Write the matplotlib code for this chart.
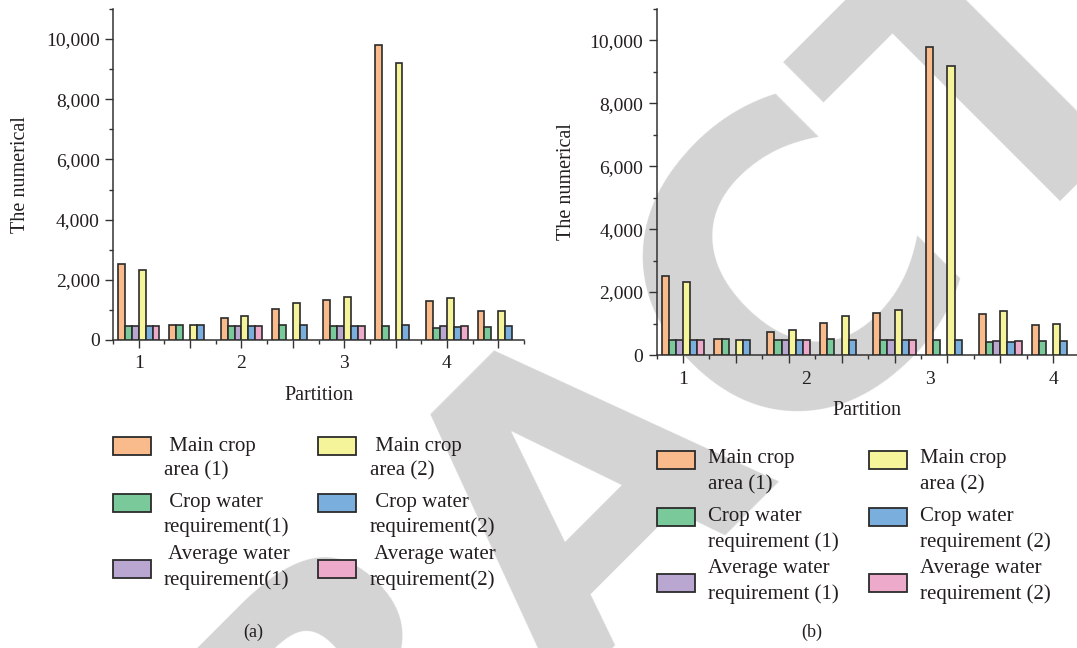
import matplotlib
matplotlib.use("Agg")
import matplotlib.pyplot as plt
import numpy as np
from matplotlib.patches import Rectangle
from matplotlib.ticker import FuncFormatter, MultipleLocator, FixedLocator

# ---------------- data ----------------
partition_labels = ["1", "2", "3", "4"]
series_a = [" Main crop\narea (1)", " Main crop\narea (2)",
            " Crop water\nrequirement(1)", " Crop water\nrequirement(2)",
            " Average water\nrequirement(1)", " Average water\nrequirement(2)"]
series_b = ["Main crop\narea (1)", "Main crop\narea (2)",
            "Crop water\nrequirement (1)", "Crop water\nrequirement (2)",
            "Average water\nrequirement (1)", "Average water\nrequirement (2)"]

main_area_1 = [2510, 510, 740, 1020, 1330, 9800, 1305, 965]
crop_water_1 = [480, 510, 470, 510, 480, 480, 410, 445]
avg_water_1 = [480, np.nan, 470, np.nan, 480, np.nan, 460, np.nan]
main_area_2 = [2310, 490, 785, 1235, 1430, 9195, 1410, 975]
crop_water_2 = [480, 490, 480, 490, 480, 490, 420, 450]
avg_water_2 = [480, np.nan, 480, np.nan, 480, np.nan, 455, np.nan]

# order of bars inside a group (left to right)
bar_series = [main_area_1, crop_water_1, avg_water_1,
              main_area_2, crop_water_2, avg_water_2]
bar_colors = ["#FABB8C", "#79C99A", "#B9A7D1", "#F6F49A", "#79AEDD", "#EDAACB"]
# legend order (row-wise, 2 columns): area1, area2, cw1, cw2, avg1, avg2
legend_colors = ["#FABB8C", "#F6F49A", "#79C99A", "#79AEDD", "#B9A7D1", "#EDAACB"]

W, H = 1077, 648
TXT = "#231F20"
EDGE = "#2B2B2B"
plt.rcParams["font.family"] = ["Liberation Serif", "DejaVu Serif"]

fig = plt.figure(figsize=(W / 100, H / 100), dpi=100)

def fx(px):
    return px / W

def fy(py):
    return 1 - py / H

# watermark
fig.text(fx(585), fy(482), "RETRACTED", rotation=45, rotation_mode="anchor",
         ha="center", va="center", fontsize=290, color="#D4D4D4",
         fontweight="bold", family="DejaVu Sans", zorder=-5)

n_groups = len(main_area_1)
bw = 0.135

def draw_panel(rect, xlim, label_pos, ylab_x, xlab_y):
    ax = fig.add_axes(rect)
    ax.patch.set_alpha(0)
    g = np.arange(n_groups)
    for k, (vals, col) in enumerate(zip(bar_series, bar_colors)):
        v = np.asarray(vals, dtype=float)
        m = ~np.isnan(v)
        ax.bar(g[m] + (k - 2.5) * bw, v[m], width=bw, color=col,
               edgecolor=EDGE, linewidth=1.2, zorder=3)
    ax.set_xlim(*xlim)
    ax.set_ylim(0, 11000)
    for s in ["top", "right"]:
        ax.spines[s].set_visible(False)
    for s in ["left", "bottom"]:
        ax.spines[s].set_color("#333333")
        ax.spines[s].set_linewidth(1.1)
    ax.yaxis.set_major_locator(MultipleLocator(2000))
    ax.yaxis.set_minor_locator(MultipleLocator(1000))
    ax.yaxis.set_major_formatter(FuncFormatter(lambda v, p: f"{int(v):,}"))
    ax.xaxis.set_major_locator(FixedLocator(g))
    ax.xaxis.set_minor_locator(FixedLocator(np.arange(-0.5, n_groups, 1.0)))
    ax.set_xticklabels([])
    ax.tick_params(axis="both", which="major", direction="out", length=6,
                   width=1.0, color="#333333", labelsize=14, labelcolor=TXT)
    ax.tick_params(axis="both", which="minor", direction="out", length=3,
                   width=1.0, color="#333333")
    for lab, pos in zip(partition_labels, label_pos):
        ax.text(pos, -0.045, lab, transform=ax.get_xaxis_transform(),
                ha="center", va="top", fontsize=14, color=TXT)
    ax.set_ylabel("The numerical", fontsize=14.5, color=TXT)
    ax.yaxis.set_label_coords((ylab_x - rect[0] * W) / (rect[2] * W), 0.5)
    ax.set_xlabel("Partition", fontsize=14.5, color=TXT)
    ax.xaxis.set_label_coords(0.5, (H * (1 - rect[1]) - xlab_y) / (rect[3] * H) + 0.0)
    return ax

# panel (a)
rect_a = [fx(113), fy(340), fx(524) - fx(113), fy(9) - fy(340)]
draw_panel(rect_a, (-0.5, 7.5), [0, 2, 4, 6], 30, 386)

# panel (b)
right_b = 7.45
rect_b = [fx(656.5), fy(355), fx(1077) - fx(656.5), fy(9) - fy(355)]
draw_panel(rect_b, (-0.5, right_b), [0, 7 / 3, 14 / 3, 7], 576, 401)

def legend(names, patch_x, text_x, rows_patch, rows_text, pw=38, ph=18, lsp=25):
    for i, (name, col) in enumerate(zip(names, legend_colors)):
        r, c = divmod(i, 2)
        px = patch_x[c]
        fig.patches.append(Rectangle((fx(px), fy(rows_patch[r] + ph / 2)),
                                     pw / W, ph / H, transform=fig.transFigure,
                                     facecolor=col, edgecolor=EDGE, linewidth=1.3))
        lines = name.split("\n")
        for j, ln in enumerate(lines):
            fig.text(fx(text_x[c]), fy(rows_text[r] + j * lsp), ln, ha="left",
                     va="center", fontsize=15, color=TXT)

legend(series_a, [113, 318], [164, 370], [446, 503, 569], [446, 502, 555], lsp=25)
legend(series_b, [657, 869], [708, 920], [460, 517, 583], [459, 516, 568], lsp=26)

fig.text(fx(253), fy(632), "(a)", ha="center", va="center", fontsize=13, color=TXT)
fig.text(fx(812), fy(632), "(b)", ha="center", va="center", fontsize=13, color=TXT)

fig.savefig("out.png", dpi=100)
